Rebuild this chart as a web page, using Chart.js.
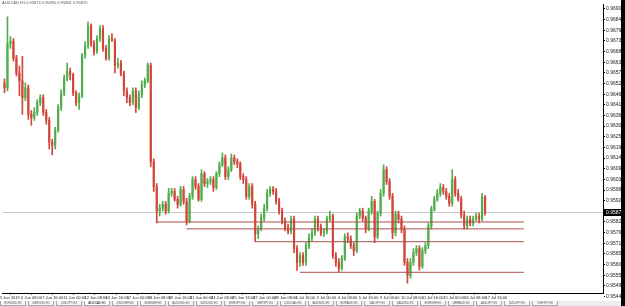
<!DOCTYPE html>
<html>
<head>
<meta charset="utf-8">
<script src="https://cdn.jsdelivr.net/npm/chart.js@4.4.1/dist/chart.umd.min.js"></script>
<style>
  html, body { margin: 0; padding: 0; background: #fff; }
  body { width: 625px; height: 306px; position: relative; overflow: hidden; font-family: "Liberation Sans", Arial, sans-serif; }
  #wrap { position: absolute; left: 0; top: 0; width: 621px; height: 301px; }
  #header { position: absolute; left: 2px; top: 0; font-size: 4px; line-height: 5px; color: #555; white-space: nowrap; }
  #tabs { position: absolute; left: 0; top: 301px; width: 621px; height: 5px; background: #ececec; display: flex; }
  .tab { width: 24px; height: 4px; margin-right: 2px; border: 1px solid #a8a8a8; border-top: none; background: #f6f6f6;
         font-size: 3px; line-height: 4px; color: #555; overflow: hidden; white-space: nowrap; text-align: center; }
  .tab.active { background: #fff; color: #000; }
  #edge { position: absolute; left: 621px; top: 0; width: 4px; height: 306px; background: #000; }
</style>
</head>
<body>
<div id="wrap"><canvas id="chart"></canvas></div>
<div id="header">AUDCAD,H1 0.95874 0.95890 0.95861 0.95870</div>
<div id="tabs"></div>
<div id="edge"></div>
<script>
// candle data (left to right)
const opens = [
  0.96525, 0.96500, 0.96725, 0.96735, 0.96650, 0.96575, 0.96535, 0.96450, 0.96500, 0.96365,
  0.96350, 0.96375, 0.96425, 0.96450, 0.96375, 0.96335, 0.96225, 0.96210, 0.96285, 0.96400,
  0.96475, 0.96550, 0.96585, 0.96565, 0.96475, 0.96425, 0.96460, 0.96665, 0.96715, 0.96815,
  0.96725, 0.96685, 0.96750, 0.96800, 0.96700, 0.96650, 0.96750, 0.96740, 0.96615, 0.96625,
  0.96575, 0.96485, 0.96450, 0.96425, 0.96485, 0.96400, 0.96465, 0.96515, 0.96535, 0.96615,
  0.96125, 0.96000, 0.95875, 0.95890, 0.95910, 0.95875, 0.95965, 0.95975, 0.95935, 0.95910,
  0.95985, 0.95925, 0.95825, 0.95950, 0.96035, 0.96000, 0.95935, 0.96065, 0.96015, 0.96025,
  0.96035, 0.95995, 0.96065, 0.96110, 0.96145, 0.96050, 0.96085, 0.96145, 0.96125, 0.96115,
  0.96050, 0.96035, 0.95950, 0.96000, 0.95910, 0.95760, 0.95785, 0.95840, 0.95890, 0.95965,
  0.95985, 0.95975, 0.95925, 0.95875, 0.95825, 0.95790, 0.95775, 0.95835, 0.95685, 0.95615,
  0.95650, 0.95615, 0.95700, 0.95740, 0.95765, 0.95835, 0.95795, 0.95765, 0.95775, 0.95835,
  0.95850, 0.95650, 0.95615, 0.95585, 0.95635, 0.95745, 0.95735, 0.95700, 0.95675, 0.95850,
  0.95875, 0.95840, 0.95785, 0.95875, 0.95925, 0.95745, 0.95865, 0.95965, 0.96085, 0.96025,
  0.95950, 0.95765, 0.95860, 0.95835, 0.95785, 0.95615, 0.95550, 0.95615, 0.95665, 0.95685,
  0.95595, 0.95675, 0.95700, 0.95800, 0.95885, 0.95935, 0.95965, 0.95995, 0.95975, 0.95950,
  0.95915, 0.96035, 0.95965, 0.95935, 0.95855, 0.95800, 0.95835, 0.95815, 0.95835, 0.95850,
  0.95835, 0.95945
];
const highs = [
  0.96545, 0.96860, 0.96760, 0.96750, 0.96665, 0.96610, 0.96660, 0.96525, 0.96515, 0.96385,
  0.96400, 0.96440, 0.96465, 0.96465, 0.96390, 0.96350, 0.96240, 0.96300, 0.96415, 0.96490,
  0.96565, 0.96625, 0.96600, 0.96575, 0.96485, 0.96475, 0.96675, 0.96735, 0.96835, 0.96825,
  0.96740, 0.96765, 0.96815, 0.96815, 0.96715, 0.96765, 0.96775, 0.96750, 0.96650, 0.96640,
  0.96585, 0.96500, 0.96465, 0.96500, 0.96500, 0.96485, 0.96535, 0.96550, 0.96625, 0.96625,
  0.96140, 0.96015, 0.95910, 0.95925, 0.95925, 0.95990, 0.95990, 0.95990, 0.95950, 0.96000,
  0.96000, 0.95940, 0.95965, 0.96050, 0.96050, 0.96015, 0.96085, 0.96075, 0.96040, 0.96050,
  0.96050, 0.96075, 0.96125, 0.96170, 0.96160, 0.96100, 0.96165, 0.96160, 0.96140, 0.96125,
  0.96065, 0.96050, 0.96015, 0.96015, 0.95925, 0.95800, 0.95860, 0.95910, 0.95985, 0.96000,
  0.96000, 0.95990, 0.95940, 0.95890, 0.95840, 0.95810, 0.95850, 0.95850, 0.95700, 0.95665,
  0.95665, 0.95715, 0.95760, 0.95785, 0.95850, 0.95850, 0.95810, 0.95785, 0.95850, 0.95875,
  0.95860, 0.95665, 0.95635, 0.95650, 0.95760, 0.95765, 0.95750, 0.95715, 0.95865, 0.95890,
  0.95890, 0.95850, 0.95890, 0.95950, 0.95935, 0.95875, 0.95985, 0.96110, 0.96100, 0.96040,
  0.95965, 0.95875, 0.95875, 0.95850, 0.95800, 0.95635, 0.95635, 0.95685, 0.95700, 0.95700,
  0.95690, 0.95715, 0.95815, 0.95900, 0.95950, 0.95985, 0.96015, 0.96010, 0.95990, 0.95965,
  0.96085, 0.96050, 0.95985, 0.95950, 0.95875, 0.95850, 0.95850, 0.95850, 0.95865, 0.95865,
  0.95965, 0.95955
];
const lows = [
  0.96475, 0.96485, 0.96700, 0.96635, 0.96560, 0.96460, 0.96365, 0.96435, 0.96340, 0.96310,
  0.96335, 0.96360, 0.96410, 0.96360, 0.96315, 0.96190, 0.96160, 0.96190, 0.96275, 0.96385,
  0.96460, 0.96535, 0.96540, 0.96460, 0.96410, 0.96390, 0.96450, 0.96650, 0.96700, 0.96710,
  0.96665, 0.96675, 0.96735, 0.96685, 0.96640, 0.96640, 0.96735, 0.96575, 0.96600, 0.96560,
  0.96460, 0.96425, 0.96410, 0.96415, 0.96375, 0.96390, 0.96450, 0.96500, 0.96525, 0.96100,
  0.95975, 0.95815, 0.95850, 0.95875, 0.95860, 0.95865, 0.95950, 0.95925, 0.95890, 0.95900,
  0.95910, 0.95805, 0.95815, 0.95935, 0.95985, 0.95925, 0.95925, 0.96000, 0.95995, 0.96010,
  0.95975, 0.95985, 0.96050, 0.96100, 0.96035, 0.96035, 0.96075, 0.96110, 0.96095, 0.96035,
  0.96015, 0.95935, 0.95935, 0.95890, 0.95720, 0.95735, 0.95775, 0.95825, 0.95875, 0.95950,
  0.95960, 0.95910, 0.95860, 0.95810, 0.95775, 0.95760, 0.95760, 0.95665, 0.95575, 0.95595,
  0.95600, 0.95600, 0.95685, 0.95725, 0.95750, 0.95775, 0.95750, 0.95745, 0.95760, 0.95825,
  0.95635, 0.95595, 0.95565, 0.95575, 0.95625, 0.95715, 0.95685, 0.95650, 0.95665, 0.95835,
  0.95825, 0.95765, 0.95775, 0.95860, 0.95715, 0.95735, 0.95850, 0.95950, 0.96010, 0.95935,
  0.95735, 0.95750, 0.95815, 0.95765, 0.95600, 0.95510, 0.95535, 0.95600, 0.95650, 0.95575,
  0.95585, 0.95660, 0.95685, 0.95785, 0.95875, 0.95925, 0.95950, 0.95960, 0.95935, 0.95900,
  0.95900, 0.95950, 0.95925, 0.95840, 0.95785, 0.95785, 0.95800, 0.95800, 0.95825, 0.95815,
  0.95825, 0.95855
];
const closes = [
  0.96500, 0.96725, 0.96735, 0.96650, 0.96575, 0.96535, 0.96450, 0.96500, 0.96365, 0.96350,
  0.96375, 0.96425, 0.96450, 0.96375, 0.96335, 0.96225, 0.96210, 0.96285, 0.96400, 0.96475,
  0.96550, 0.96585, 0.96565, 0.96475, 0.96425, 0.96460, 0.96665, 0.96715, 0.96815, 0.96725,
  0.96685, 0.96750, 0.96800, 0.96700, 0.96650, 0.96750, 0.96740, 0.96615, 0.96625, 0.96575,
  0.96485, 0.96450, 0.96425, 0.96485, 0.96400, 0.96465, 0.96515, 0.96535, 0.96615, 0.96125,
  0.96000, 0.95875, 0.95890, 0.95910, 0.95875, 0.95965, 0.95975, 0.95935, 0.95910, 0.95985,
  0.95925, 0.95825, 0.95950, 0.96035, 0.96000, 0.95935, 0.96065, 0.96015, 0.96025, 0.96035,
  0.95995, 0.96065, 0.96110, 0.96145, 0.96050, 0.96085, 0.96145, 0.96125, 0.96115, 0.96050,
  0.96035, 0.95950, 0.96000, 0.95910, 0.95760, 0.95785, 0.95840, 0.95890, 0.95965, 0.95985,
  0.95975, 0.95925, 0.95875, 0.95825, 0.95790, 0.95775, 0.95835, 0.95685, 0.95615, 0.95650,
  0.95615, 0.95700, 0.95740, 0.95765, 0.95835, 0.95795, 0.95765, 0.95775, 0.95835, 0.95850,
  0.95650, 0.95615, 0.95585, 0.95635, 0.95745, 0.95735, 0.95700, 0.95675, 0.95850, 0.95875,
  0.95840, 0.95785, 0.95875, 0.95925, 0.95745, 0.95865, 0.95965, 0.96085, 0.96025, 0.95950,
  0.95765, 0.95860, 0.95835, 0.95785, 0.95615, 0.95550, 0.95615, 0.95665, 0.95685, 0.95595,
  0.95675, 0.95700, 0.95800, 0.95885, 0.95935, 0.95965, 0.95995, 0.95975, 0.95950, 0.95915,
  0.96035, 0.95965, 0.95935, 0.95855, 0.95800, 0.95835, 0.95815, 0.95835, 0.95850, 0.95835,
  0.95945, 0.95870
];

// horizontal levels drawn on the chart, and the candle each one starts from
const levelPrices = [0.95820, 0.95785, 0.95720, 0.95565];
const levelStarts = [51, 61, 84, 99];
const levelEnd = 174;
const currentPrice = 0.95870;

// price scale labels (right) and time labels (bottom)
const priceTicks = [
  0.96900, 0.96846, 0.96792, 0.96738, 0.96684, 0.96630, 0.96576, 0.96522, 0.96468, 0.96414,
  0.96360, 0.96306, 0.96252, 0.96198, 0.96144, 0.96090, 0.96036, 0.95982, 0.95928, 0.95874,
  0.95820, 0.95766, 0.95712, 0.95658, 0.95604, 0.95550, 0.95496, 0.95442
];
const timeLabels = [
  '5 Jun 2019', '6 Jun 08:00', '7 Jun 16:00', '11 Jun 00:00', '12 Jun 08:00', '13 Jun 16:00',
  '17 Jun 00:00', '18 Jun 08:00', '19 Jun 16:00', '21 Jun 00:00', '24 Jun 08:00', '25 Jun 16:00',
  '27 Jun 00:00', '28 Jun 08:00', '1 Jul 16:00', '3 Jul 00:00', '4 Jul 08:00', '5 Jul 16:00',
  '9 Jul 00:00', '10 Jul 08:00', '11 Jul 16:00', '15 Jul 00:00', '16 Jul 08:00', '17 Jul 16:00'
];
const tabNames = [
  'EURUSD,H1', 'GBPUSD,H1', 'USDJPY,H1', 'AUDCAD,H1', 'USDCHF,H4', 'EURGBP,H1', 'AUDUSD,H1',
  'NZDUSD,H1', 'EURJPY,H4', 'GBPJPY,H1', 'USDCAD,H1', 'AUDNZD,H1', 'EURAUD,H1', 'CADJPY,H1',
  'XAUUSD,H1', 'EURCHF,H1', 'GBPAUD,H1', 'AUDJPY,H1', 'NZDJPY,H1', 'CHFJPY,H1'
];

const BULL = '#4fae4a';
const BEAR = '#d2463a';
const LEVEL = '#a8504a';
const PX_PER_CANDLE = 3;
const TICK_FIRST = -1.5;
const TICK_STEP = 7.07;
const AXIS_FONT = '"Liberation Sans Narrow", "Liberation Sans", Arial, sans-serif';

// tabs along the bottom
const tabs = document.getElementById('tabs');
tabNames.forEach((name, i) => {
  const t = document.createElement('div');
  t.className = 'tab' + (i === 3 ? ' active' : '');
  t.textContent = name;
  tabs.appendChild(t);
});

const colorOf = i => (closes[i] >= opens[i] ? BULL : BEAR);

const wickData = closes.map((c, i) => ({ x: i, y: [lows[i], highs[i]] }));
const bodyData = closes.map((c, i) => ({ x: i, y: [opens[i], c] }));

const levelSets = levelPrices.map((p, k) => ({
  type: 'line',
  data: [{ x: levelStarts[k], y: p }, { x: levelEnd, y: p }],
  borderColor: LEVEL,
  borderWidth: 1,
  pointRadius: 0,
  order: 0
}));

// gray current-price line plus the black price tag on the axis
const priceLine = {
  id: 'priceLine',
  beforeDatasetsDraw(chart) {
    const { ctx, chartArea } = chart;
    const y = Math.round(chart.scales.y.getPixelForValue(currentPrice)) + 0.5;
    ctx.save();
    ctx.strokeStyle = '#c8c8c8';
    ctx.lineWidth = 1;
    ctx.beginPath();
    ctx.moveTo(chartArea.left, y);
    ctx.lineTo(chartArea.right, y);
    ctx.stroke();
    ctx.restore();
  },
  afterDraw(chart) {
    const { ctx, chartArea } = chart;
    const y = Math.round(chart.scales.y.getPixelForValue(currentPrice));
    ctx.save();
    ctx.fillStyle = '#000';
    ctx.fillRect(chartArea.right + 1, y - 3, 17, 7);
    ctx.fillStyle = '#fff';
    ctx.font = '5px ' + AXIS_FONT;
    ctx.textBaseline = 'middle';
    ctx.fillText(currentPrice.toFixed(5), chartArea.right + 3, y + 0.5);
    ctx.restore();
  }
};

new Chart(document.getElementById('chart'), {
  type: 'bar',
  data: {
    datasets: [
      {
        data: wickData,
        backgroundColor: ctx => colorOf(ctx.dataIndex),
        barThickness: 1,
        grouped: false,
        order: 2
      },
      {
        data: bodyData,
        backgroundColor: ctx => colorOf(ctx.dataIndex),
        barThickness: 1.5,
        minBarLength: 1,
        grouped: false,
        order: 1
      },
      ...levelSets
    ]
  },
  options: {
    responsive: true,
    maintainAspectRatio: false,
    animation: false,
    layout: { padding: 0 },
    plugins: {
      legend: { display: false },
      tooltip: { enabled: false }
    },
    scales: {
      x: {
        type: 'linear',
        offset: false,
        min: -0.5,
        max: -0.5 + 603 / PX_PER_CANDLE,
        grid: { drawOnChartArea: false, drawTicks: true, tickLength: 2, color: '#777' },
        border: { color: '#000' },
        afterBuildTicks: scale => {
          scale.ticks = timeLabels.map((t, k) => ({ value: TICK_FIRST + k * TICK_STEP }));
        },
        afterFit: scale => { scale.height = 8; },
        ticks: {
          autoSkip: false,
          maxRotation: 0,
          align: 'start',
          padding: 0,
          color: '#222',
          font: { size: 4, family: AXIS_FONT },
          callback: (v, idx) => timeLabels[idx]
        }
      },
      y: {
        position: 'right',
        min: 0.95460,
        max: 0.96925,
        grid: { drawOnChartArea: false, drawTicks: true, tickLength: 2, color: '#000' },
        border: { color: '#000' },
        afterBuildTicks: scale => {
          scale.ticks = priceTicks.map(v => ({ value: v }));
        },
        afterFit: scale => { scale.width = 18; },
        ticks: {
          padding: 1,
          color: '#222',
          font: { size: 5, family: AXIS_FONT },
          callback: v => v.toFixed(5)
        }
      }
    }
  },
  plugins: [priceLine]
});
</script>
</body>
</html>
